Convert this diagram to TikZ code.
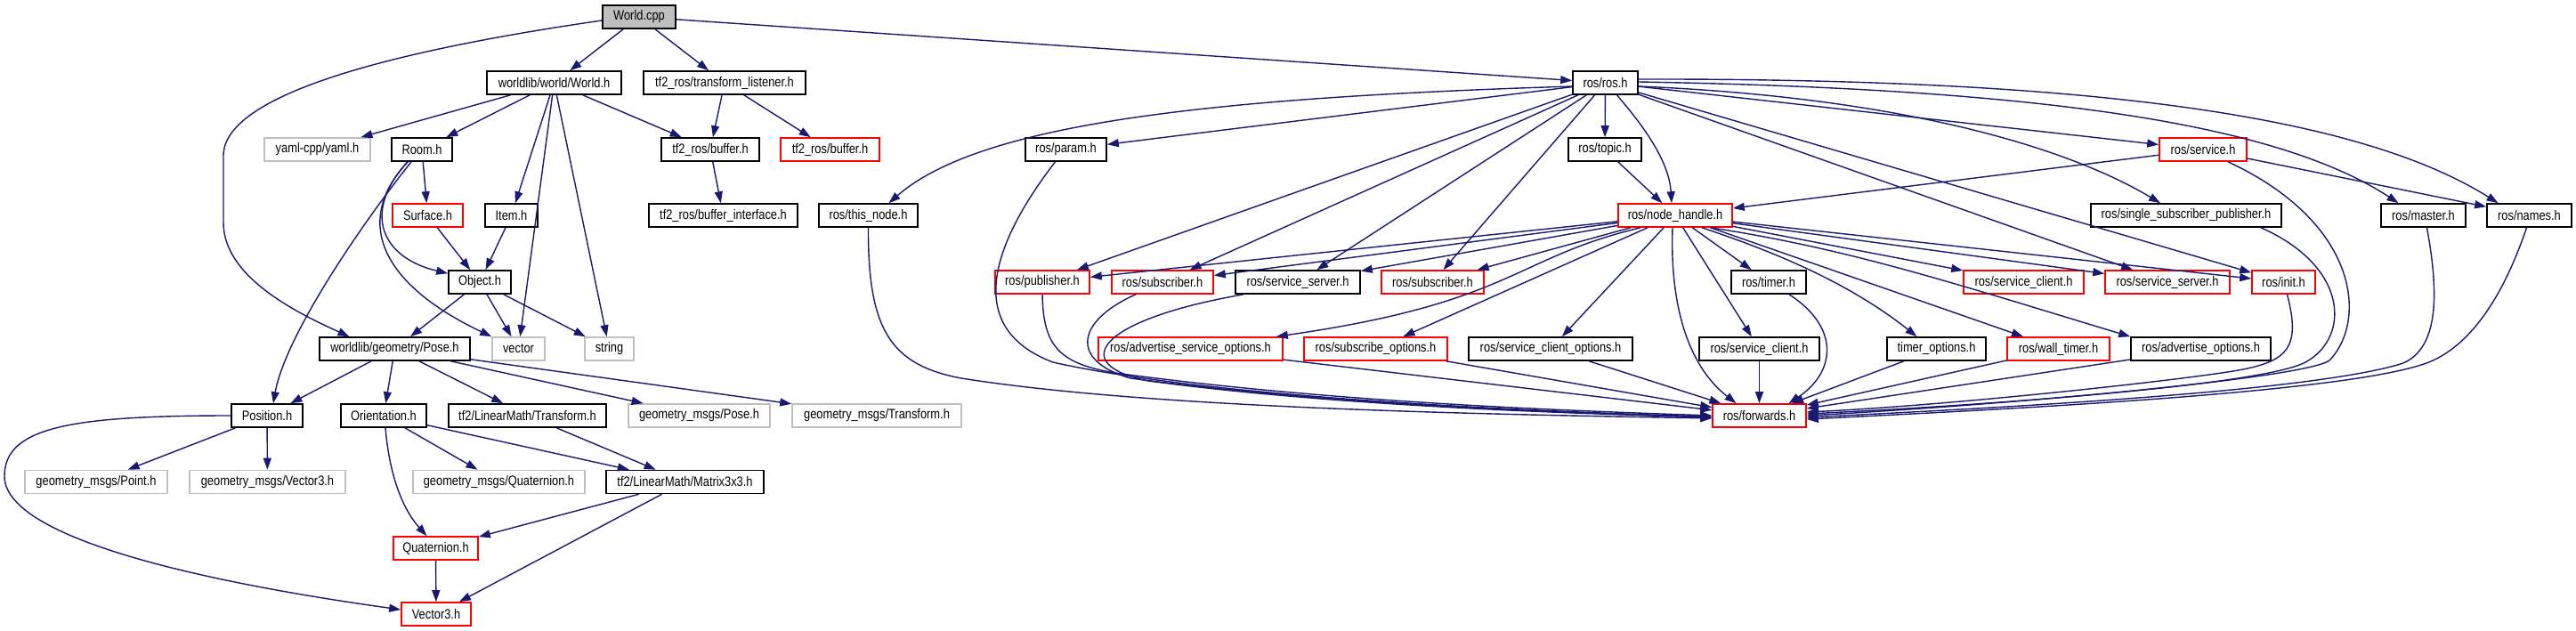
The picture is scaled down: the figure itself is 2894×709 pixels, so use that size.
\documentclass[tikz,border=0pt]{standalone}
\usepackage{fontspec}
\setmainfont[FakeStretch=0.84]{Liberation Sans}
\usetikzlibrary{arrows.meta}
\definecolor{edgec}{HTML}{191970}
\definecolor{grayc}{HTML}{BFBFBF}
\definecolor{redc}{HTML}{FF0000}
\begin{document}
\begin{tikzpicture}[x=1pt,y=-1pt,
  bx/.style={draw=black, fill=white, line width=1.6pt, rectangle, inner sep=0pt,
    minimum height=26pt, font=\fontsize{15.3}{17}\selectfont, text=black},
  rbx/.style={bx, draw=redc},
  gbx/.style={bx, draw=grayc},
  e/.style={draw=edgec, line width=1.4pt, -{Triangle[length=13pt,width=9pt]}, line join=miter}]
\useasboundingbox (0,0) rectangle (2894,709);

% row 1
\node[bx, fill=grayc, minimum width=82pt] (wcpp) at (718,19) {World.cpp};
% row 2
\node[bx, minimum width=151pt] (worldh) at (622.5,93) {worldlib/world/World.h};
\node[bx, minimum width=182pt] (tflist) at (814,93) {tf2\_ros/transform\_listener.h};
\node[bx, minimum width=73pt] (rosh) at (1803.5,93) {ros/ros.h};
% row 3
\node[gbx, minimum width=119pt] (yaml) at (356.5,168) {yaml-cpp/yaml.h};
\node[bx, minimum width=68pt] (room) at (474,168) {Room.h};
\node[bx, minimum width=110pt] (tfbuf) at (798,168) {tf2\_ros/buffer.h};
\node[rbx, minimum width=111pt] (tfbufr) at (932.5,168) {tf2\_ros/buffer.h};
\node[bx, minimum width=91pt] (param) at (1197.5,168) {ros/param.h};
\node[bx, minimum width=82pt] (topic) at (1803,168) {ros/topic.h};
\node[rbx, minimum width=98pt] (service) at (2475,168) {ros/service.h};
% row 4
\node[rbx, minimum width=79pt] (surface) at (480.5,242) {Surface.h};
\node[bx, minimum width=59pt] (item) at (574.5,242) {Item.h};
\node[bx, minimum width=167pt] (tfbufi) at (812.5,242) {tf2\_ros/buffer\_interface.h};
\node[bx, minimum width=111pt] (thisnode) at (975.5,242) {ros/this\_node.h};
\node[rbx, minimum width=128pt] (nh) at (1882,242) {ros/node\_handle.h};
\node[bx, minimum width=214pt] (ssp) at (2456,242) {ros/single\_subscriber\_publisher.h};
\node[bx, minimum width=95pt] (master) at (2722.5,242) {ros/master.h};
\node[bx, minimum width=95pt] (names) at (2841.5,242) {ros/names.h};
% row 5
\node[bx, minimum width=70pt] (object) at (539,317) {Object.h};
\node[rbx, minimum width=106pt] (pub) at (1171,317) {ros/publisher.h};
\node[rbx, minimum width=114pt] (sub1) at (1306,317) {ros/subscriber.h};
\node[bx, minimum width=140pt] (ssrv) at (1458,317) {ros/service\_server.h};
\node[rbx, minimum width=115pt] (sub2) at (1609.5,317) {ros/subscriber.h};
\node[bx, minimum width=84pt] (timer) at (1987,317) {ros/timer.h};
\node[rbx, minimum width=135pt] (sclr) at (2273.5,317) {ros/service\_client.h};
\node[rbx, minimum width=140pt] (ssrvr) at (2435,317) {ros/service\_server.h};
\node[rbx, minimum width=71pt] (init) at (2565.5,317) {ros/init.h};
% row 6
\node[bx, minimum width=169pt] (pose) at (443.5,392) {worldlib/geometry/Pose.h};
\node[gbx, minimum width=59pt] (vector) at (582.5,392) {vector};
\node[gbx, minimum width=55pt] (string) at (684.5,392) {string};
\node[rbx, minimum width=207pt] (aso) at (1337.5,392) {ros/advertise\_service\_options.h};
\node[rbx, minimum width=161pt] (subo) at (1545.5,392) {ros/subscribe\_options.h};
\node[bx, minimum width=184pt] (sco) at (1742,392) {ros/service\_client\_options.h};
\node[bx, minimum width=135pt] (sclb) at (1976.5,392) {ros/service\_client.h};
\node[bx, minimum width=111pt] (timero) at (2175.5,392) {timer\_options.h};
\node[rbx, minimum width=115pt] (wallt) at (2312.5,392) {ros/wall\_timer.h};
\node[bx, minimum width=157pt] (ao) at (2472.5,392) {ros/advertise\_options.h};
% row 7
\node[bx, minimum width=80pt] (position) at (300,467) {Position.h};
\node[bx, minimum width=96pt] (orient) at (431,467) {Orientation.h};
\node[bx, minimum width=177pt] (tf2tr) at (592.5,467) {tf2/LinearMath/Transform.h};
\node[gbx, minimum width=159pt] (gpose) at (785.5,467) {geometry\_msgs/Pose.h};
\node[gbx, minimum width=190pt] (gtrans) at (985,467) {geometry\_msgs/Transform.h};
\node[rbx, minimum width=105pt] (fwd) at (1976.5,467) {ros/forwards.h};
% row 8
\node[gbx, minimum width=160pt] (gpoint) at (108,541.5) {geometry\_msgs/Point.h};
\node[gbx, minimum width=175pt] (gvec3) at (300.5,541.5) {geometry\_msgs/Vector3.h};
\node[gbx, minimum width=193pt] (gquat) at (560.5,541.5) {geometry\_msgs/Quaternion.h};
\node[bx, minimum width=177pt] (mat) at (769.5,541.5) {tf2/LinearMath/Matrix3x3.h};
% row 9, 10
\node[rbx, minimum width=95pt] (quat) at (489.5,616) {Quaternion.h};
\node[rbx, minimum width=78pt] (vec3) at (490,690) {Vector3.h};

% ---- World.cpp
\draw[e] (wcpp) -- (worldh);
\draw[e] (wcpp) -- (tflist);
\draw[e] (wcpp) -- (rosh);
\draw[e] ([yshift=-4pt]wcpp.west) .. controls (420,60) and (251,110) .. (251,175)
  -- (251,250) .. controls (251,310) and (330,350) .. ([xshift=-51pt]pose.north);
% ---- World.h
\draw[e] (worldh) -- (yaml);
\draw[e] (worldh) -- (room);
\draw[e] (worldh) -- (item);
\draw[e] (worldh) -- (vector);
\draw[e] (worldh) -- (string);
\draw[e] (worldh) -- (tfbuf);
% ---- Room.h
\draw[e] (room) -- (surface);
\draw[e] ([xshift=-16pt]room.south) .. controls (405,240) and (430,290) .. ([yshift=-4pt]object.north west);
\draw[e] ([xshift=-16pt]room.south) .. controls (395,250) and (430,320) .. (vector.north west);
\draw[e] ([xshift=-12pt]room.south) .. controls (400,260) and (320,380) .. ([xshift=7pt]position.north);
\draw[e] (surface) -- (object);
\draw[e] (item) -- (object);
% ---- Object.h
\draw[e] (object) -- (pose);
\draw[e] (object) -- (vector);
\draw[e] (object) -- (string);
% ---- Pose.h
\draw[e] (pose) -- (position);
\draw[e] (pose) -- (orient);
\draw[e] (pose) -- (tf2tr);
\draw[e] (pose) -- (gpose);
\draw[e] (pose) -- (gtrans);
% ---- Position / Orientation
\draw[e] (position) -- (gpoint);
\draw[e] (position) -- (gvec3);
\draw[e] (position.west) .. controls (80,467) and (5,480) .. (5,535)
  .. controls (5,600) and (200,650) .. ([yshift=5pt]vec3.west);
\draw[e] ([xshift=2pt]orient.south) .. controls (438,540) and (455,575) .. ([xshift=-10pt]quat.north);
\draw[e] (orient) -- (gquat);
\draw[e] (orient) -- (mat);
\draw[e] (tf2tr) -- (mat);
\draw[e] (mat) -- (quat);
\draw[e] (mat) -- (vec3);
\draw[e] (quat) -- (vec3);
% ---- tf2_ros
\draw[e] (tflist) -- (tfbuf);
\draw[e] (tflist) -- (tfbufr);
\draw[e] (tfbuf) -- (tfbufi);
% ---- ros.h
\draw[e] ([yshift=-4pt]rosh.west) .. controls (1350,110) and (1100,140) .. ([xshift=23pt]thisnode.north);
\draw[e] (rosh) -- (param);
\draw[e] (rosh) -- (pub);
\draw[e] (rosh) -- (sub1);
\draw[e] (rosh) -- (ssrv);
\draw[e] (rosh) -- (sub2);
\draw[e] (rosh) -- (topic);
\draw[e] ([xshift=13pt]rosh.south) .. controls (1845,140) and (1875,180) .. ([xshift=-4pt]nh.north);
\draw[e] (rosh) -- (service);
\draw[e] ([yshift=-4pt]rosh.east) .. controls (2150,110) and (2330,170) .. ([xshift=-29pt]ssp.north);
\draw[e] (rosh) -- (ssrvr);
\draw[e] (rosh) -- (init);
\draw[e] ([yshift=1pt]rosh.east) .. controls (2300,100) and (2560,140) .. ([xshift=-28pt]master.north);
\draw[e] ([yshift=4pt]rosh.east) .. controls (2350,88) and (2650,130) .. ([xshift=-35pt]names.north);
% ---- topic / service
\draw[e] (topic) -- (nh);
\draw[e] (service) -- (nh);
\draw[e] (service) -- (names);
% ---- node_handle.h
\draw[e] (nh) -- (pub);
\draw[e] (nh) -- (sub1);
\draw[e] (nh) -- (ssrv);
\draw[e] (nh) -- (sub2);
\draw[e] ([xshift=-39pt]nh.south) .. controls (1700,290) and (1700,340) .. ([xshift=-8pt]aso.north east);
\draw[e] (nh) -- (subo);
\draw[e] (nh) -- (sco);
\draw[e] ([xshift=-3pt]nh.south) .. controls (1876,340) and (1895,410) .. ([xshift=-26pt]fwd.north);
\draw[e] (nh) -- (sclb);
\draw[e] (nh) -- (timer);
\draw[e] ([xshift=30pt]nh.south) .. controls (2000,285) and (2080,320) .. ([xshift=-22pt]timero.north);
\draw[e] (nh) -- (wallt);
\draw[e] ([xshift=40pt]nh.south) .. controls (2080,280) and (2200,320) .. (ao.north west);
\draw[e] (nh) -- (sclr);
\draw[e] (nh) -- (ssrvr);
\draw[e] (nh) -- (init);
% ---- into forwards.h from the left
\draw[e] (thisnode.south) .. controls (975,370) and (1000,410) .. (1080,425)
  .. controls (1300,460) and (1700,466) .. ([yshift=-3pt]fwd.west);
\draw[e] ([xshift=-12pt]param.south) .. controls (1110,280) and (1085,370) .. (1183,407)
  .. controls (1350,445) and (1700,462) .. ([yshift=-1pt]fwd.west);
\draw[e] (pub.south) .. controls (1172,390) and (1190,410) .. (1260,420)
  .. controls (1500,452) and (1750,461) .. (fwd.west);
\draw[e] ([xshift=-30pt]sub1.south) .. controls (1210,360) and (1200,405) .. (1270,425)
  .. controls (1500,455) and (1750,463) .. ([yshift=-2pt]fwd.west);
\draw[e] ([xshift=-61pt]ssrv.south) .. controls (1230,360) and (1200,410) .. (1290,428)
  .. controls (1500,456) and (1750,464) .. ([yshift=-2pt]fwd.west);
\draw[e] (aso) -- (fwd);
\draw[e] (subo) -- (fwd);
\draw[e] (sco) -- (fwd);
% ---- into forwards.h from the right
\draw[e] (sclb) -- (fwd);
\draw[e] ([xshift=23pt]timer.south) .. controls (2070,370) and (2060,420) .. ([xshift=33pt]fwd.north);
\draw[e] (timero) -- (fwd);
\draw[e] (wallt) -- (fwd);
\draw[e] (ao) -- (fwd);
\draw[e] ([xshift=4pt]init.south) .. controls (2585,390) and (2570,405) .. (2520,415)
  .. controls (2470,425) and (2200,455) .. ([yshift=4pt]fwd.east);
\draw[e] ([xshift=84pt]ssp.south) .. controls (2640,300) and (2640,380) .. (2590,407)
  .. controls (2540,434) and (2200,457) .. ([yshift=2pt]fwd.east);
\draw[e] ([xshift=28pt]service.south) .. controls (2650,250) and (2660,360) .. (2617,405)
  .. controls (2590,425) and (2250,455) .. (fwd.east);
\draw[e] ([xshift=4pt]master.south) .. controls (2740,330) and (2740,390) .. (2700,408)
  .. controls (2600,440) and (2250,458) .. ([yshift=-2pt]fwd.east);
\draw[e] ([xshift=-3pt]names.south) .. controls (2810,340) and (2770,395) .. (2720,410)
  .. controls (2620,442) and (2250,460) .. ([yshift=-4pt]fwd.east);
\end{tikzpicture}
\end{document}
